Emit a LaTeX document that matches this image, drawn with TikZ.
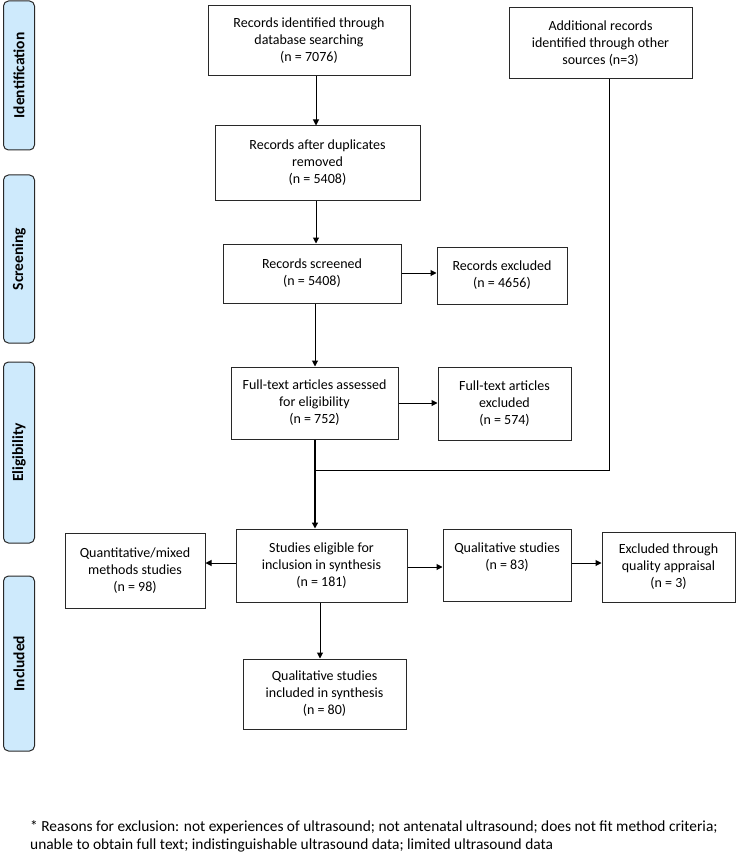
\documentclass[tikz,border=0pt]{standalone}
\usepackage{fontspec}
\setmainfont{Carlito}
\usetikzlibrary{arrows.meta}
\definecolor{barblue}{RGB}{206,234,252}
\definecolor{linegray}{RGB}{40,40,40}
\tikzset{
  box/.style={draw=linegray, line width=1pt, align=center, inner sep=2pt, font=\fontsize{14}{17}\selectfont, text=black},
  bar/.style={draw=linegray, fill=barblue, line width=1pt, rounded corners=5pt, minimum width=31pt, inner sep=0pt},
  barlabel/.style={rotate=90, font=\fontsize{15.5}{17}\selectfont\bfseries},
  arr/.style={-{Triangle[length=6pt,width=6pt]}, line width=1pt, draw=black},
  ln/.style={line width=1pt, draw=black}
}
\begin{document}
\begin{tikzpicture}[x=1pt,y=-1pt]
\useasboundingbox (0,0) rectangle (737,853);
% side bars
\node[bar, minimum height=149pt] (sid) at (19,75.5) {};
\node[barlabel] (lid) at (sid.center) {Identification};
\node[bar, minimum height=168pt] (sscr) at (19,259) {};
\node[barlabel] (lscr) at (sscr.center) {Screening};
\node[bar, minimum height=181pt] (selig) at (19,452.5) {};
\node[barlabel] (lelig) at (selig.center) {Eligibility};
\node[bar, minimum height=175pt] (sinc) at (19,663.5) {};
\node[barlabel] (linc) at (sinc.center) {Included};
% boxes
\node[box, minimum width=202pt, minimum height=70pt] (b1) at (309,41) {Records identified through\\database searching\\(n = 7076)};
\node[box, minimum width=183pt, minimum height=71pt] (b2) at (600.5,43.5) {Additional records\\identified through other\\sources (n=3)};
\node[box, minimum width=205pt, minimum height=74pt] (b3) at (317.5,163) {Records after duplicates\\removed\\(n = 5408)};
\node[box, minimum width=178pt, minimum height=59pt] (b4) at (312,273.5) {Records screened\\(n = 5408)};
\node[box, minimum width=130pt, minimum height=57pt] (b5) at (502,275.5) {Records excluded\\(n = 4656)};
\node[box, minimum width=167pt, minimum height=72pt] (b6) at (314.5,403) {Full-text articles assessed\\for eligibility\\(n = 752)};
\node[box, minimum width=133pt, minimum height=73pt] (b7) at (504.5,403.5) {Full-text articles\\excluded\\(n = 574)};
\node[box, minimum width=171pt, minimum height=73pt] (b8) at (321.5,565.5) {Studies eligible for\\inclusion in synthesis\\(n = 181)};
\node[box, minimum width=140pt, minimum height=75pt] (b9) at (135,570.5) {Quantitative/mixed\\methods studies\\(n = 98)};
\node[box, minimum width=128pt, minimum height=72pt] (b10) at (507,565) {Qualitative studies\\(n = 83)\\\mbox{}};
\node[box, minimum width=133pt, minimum height=70pt] (b11) at (668.5,567) {Excluded through\\quality appraisal\\(n = 3)};
\node[box, minimum width=163pt, minimum height=70pt] (b12) at (324.5,694) {Qualitative studies\\included in synthesis\\(n = 80)};
% footnote
\node[anchor=north west, align=left, inner sep=0pt, font=\fontsize{15.4}{18}\selectfont] (fn) at (30,820) {* Reasons for exclusion: not experiences of ultrasound; not antenatal ultrasound; does not fit method criteria;\\unable to obtain full text; indistinguishable ultrasound data; limited ultrasound data};
% connectors
\coordinate (m1) at (315,470);
\coordinate (m2) at (609,470);
\draw[arr] (b1.south -| 316,0) -- (b3.north -| 316,0);
\draw[arr] (b3.south -| 316,0) -- (b4.north -| 316,0);
\draw[arr] (b4.south -| 315,0) -- (b6.north -| 315,0);
\draw[arr] (b4.east |- 0,273) -- (b5.west |- 0,273);
\draw[arr] (b6.east |- 0,403) -- (b7.west |- 0,403);
\draw[ln] (b2.south -| m2) -- (m2) -- (m1);
\draw[arr, line width=1.4pt] (b6.south -| m1) -- (b8.north -| m1);
\draw[arr] (b8.west |- 0,563) -- (b9.east |- 0,563);
\draw[arr] (b8.east |- 0,567) -- (b10.west |- 0,567);
\draw[arr] (b10.east |- 0,563) -- (b11.west |- 0,563);
\draw[arr] (b8.south -| 320,0) -- (b12.north -| 320,0);
\end{tikzpicture}
\end{document}
